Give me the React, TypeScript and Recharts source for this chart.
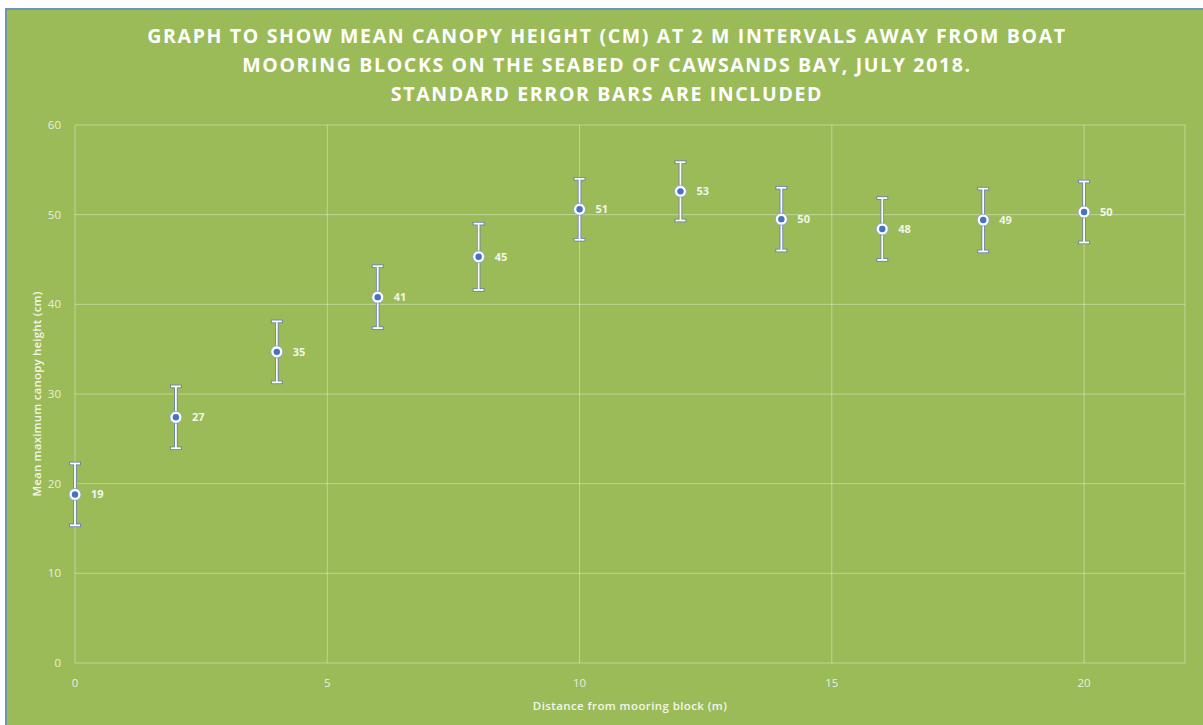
import { ScatterChart, Scatter, XAxis, YAxis, CartesianGrid, ErrorBar } from "recharts";

const distances = [0, 2, 4, 6, 8, 10, 12, 14, 16, 18, 20];
const meanHeights = [18.8, 27.4, 34.7, 40.8, 45.3, 50.6, 52.6, 49.5, 48.4, 49.4, 50.3];
const standardErrors = [3.45, 3.45, 3.4, 3.45, 3.7, 3.4, 3.25, 3.5, 3.45, 3.5, 3.4];
const xTicks = [0, 5, 10, 15, 20];
const yTicks = [0, 10, 20, 30, 40, 50, 60];

const titleLines = [
  "GRAPH TO SHOW MEAN CANOPY HEIGHT (CM) AT 2 M INTERVALS AWAY FROM BOAT",
  "MOORING BLOCKS ON THE SEABED OF CAWSANDS BAY, JULY 2018.",
  "STANDARD ERROR BARS ARE INCLUDED",
];

const points = distances.map((d, i) => ({
  distance: d,
  height: meanHeights[i],
  se: standardErrors[i],
}));

const FONT = "'Open Sans', sans-serif";
const BG = "#9BBB59";
const GRID = "rgba(255,255,255,0.38)";
const TICK = "rgba(255,255,255,0.8)";

function Marker(props: any) {
  const { cx, cy, payload } = props;
  return (
    <g>
      <circle cx={cx} cy={cy} r={6} fill="#fff" stroke="#8a9cc0" strokeWidth={0.8} />
      <circle cx={cx} cy={cy} r={3.2} fill="#4472C4" />
      <text
        x={cx + 16}
        y={cy}
        dy="0.35em"
        fill="#f2f6e8"
        fontSize={11}
        fontWeight={700}
        fontFamily={FONT}
      >
        {Math.round(payload.height)}
      </text>
    </g>
  );
}

export default function App() {
  return (
    <div
      style={{
        position: "fixed",
        left: 5,
        top: 8,
        width: 1198,
        height: 717,
        boxSizing: "border-box",
        borderLeft: "2px solid #6b97b3",
        borderTop: "2px solid #6b97b3",
        background: BG,
        fontFamily: FONT,
        overflow: "hidden",
      }}
    >
      <div
        style={{
          position: "absolute",
          left: 0,
          top: 11,
          width: 1200,
          textAlign: "center",
          color: "#fff",
          fontWeight: 700,
          fontSize: 19.5,
          lineHeight: "29px",
          letterSpacing: 1.65,
        }}
      >
        {titleLines.map((t) => (
          <div key={t}>{t}</div>
        ))}
      </div>
      <div
        style={{
          position: "absolute",
          left: 29,
          top: 384,
          transform: "translate(-50%, -50%) rotate(-90deg)",
          whiteSpace: "nowrap",
          color: "#f2f6e8",
          fontSize: 11.5,
          fontWeight: 600,
          letterSpacing: 0.2,
        }}
      >
        Mean maximum canopy height (cm)
      </div>
      <div
        style={{
          position: "absolute",
          left: 623,
          top: 695,
          transform: "translate(-50%, -50%)",
          whiteSpace: "nowrap",
          color: "#f2f6e8",
          fontSize: 11.5,
          fontWeight: 600,
          letterSpacing: 0.4,
        }}
      >
        Distance from mooring block (m)
      </div>
      <ScatterChart
        width={1196}
        height={715}
        margin={{ top: 115, right: 18, bottom: 0, left: 0 }}
      >
        <CartesianGrid stroke={GRID} strokeWidth={1} />
        <XAxis
          type="number"
          dataKey="distance"
          domain={[0, 22]}
          ticks={xTicks}
          axisLine={false}
          tickLine={false}
          tickSize={0}
          tickMargin={16}
          height={62}
          tick={{ fontSize: 11.5, fill: TICK, fontFamily: FONT }}
        />
        <YAxis
          type="number"
          dataKey="height"
          domain={[0, 60]}
          ticks={yTicks}
          axisLine={false}
          tickLine={false}
          tickSize={0}
          tickMargin={14}
          width={68}
          tick={{ fontSize: 11.5, fill: TICK, fontFamily: FONT }}
        />
        <Scatter data={points} shape={<Marker />} isAnimationActive={false}>
          <ErrorBar dataKey="se" direction="y" width={6} stroke="#6f83a8" strokeWidth={3.6} />
          <ErrorBar dataKey="se" direction="y" width={5} stroke="#ffffff" strokeWidth={1.8} />
        </Scatter>
      </ScatterChart>
    </div>
  );
}
